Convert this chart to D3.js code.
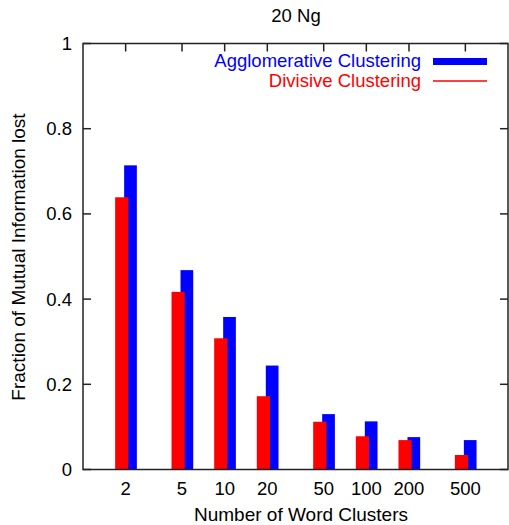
<!DOCTYPE html>
<html lang="en">
<head>
  <meta charset="UTF-8">
  <title>20 Ng</title>
  <style>
    html, body {
      margin: 0;
      background: #fff;
      overflow: hidden;
    }
    svg text {
      font-family: "Liberation Sans", Arial, sans-serif;
      font-size: 18.5px;
    }
    svg text.axis-title {
      font-size: 19px;
    }
  </style>
</head>
<body>
  <svg width="509" height="525"></svg>
<script src="https://cdnjs.cloudflare.com/ajax/libs/d3/7.8.5/d3.min.js"></script>
<script type="text/javascript">
  // data
  const clusters = [2, 5, 10, 20, 50, 100, 200, 500]
  const agglomerative = [0.714, 0.468, 0.358, 0.244, 0.130, 0.113, 0.076, 0.069]
  const divisive = [0.639, 0.417, 0.308, 0.172, 0.112, 0.078, 0.069, 0.034]
  const yTicks = [0, 0.2, 0.4, 0.6, 0.8, 1]

  const svg = d3.select('svg')
  const plot = { left: 83, right: 508, top: 43.5, bottom: 469.5 }

  const x = d3.scaleLog().domain([1, 1000]).range([plot.left, plot.right])
  const y = d3.scaleLinear().domain([0, 1]).range([plot.bottom, plot.top])

  const axisColor = '#222'

  // ticks (inward, mirrored)
  const tickLen = 8
  svg.append('g').selectAll('line')
    .data(yTicks)
    .enter()
    .append('line')
    .attr('x1', plot.left).attr('x2', plot.left + tickLen)
    .attr('y1', d => y(d)).attr('y2', d => y(d))
    .attr('stroke', axisColor).attr('stroke-width', 1.5)
  svg.append('g').selectAll('line')
    .data(yTicks)
    .enter()
    .append('line')
    .attr('x1', plot.right).attr('x2', plot.right - tickLen)
    .attr('y1', d => y(d)).attr('y2', d => y(d))
    .attr('stroke', axisColor).attr('stroke-width', 1.5)
  svg.append('g').selectAll('line')
    .data(clusters)
    .enter()
    .append('line')
    .attr('x1', d => x(d)).attr('x2', d => x(d))
    .attr('y1', plot.top).attr('y2', plot.top + tickLen)
    .attr('stroke', axisColor).attr('stroke-width', 1.5)
  svg.append('g').selectAll('line')
    .data(clusters)
    .enter()
    .append('line')
    .attr('x1', d => x(d)).attr('x2', d => x(d))
    .attr('y1', plot.bottom).attr('y2', plot.bottom - tickLen)
    .attr('stroke', axisColor).attr('stroke-width', 1.5)

  // bars: blue behind, red in front
  svg.append('g').selectAll('rect')
    .data(agglomerative)
    .enter()
    .append('rect')
    .attr('x', (d, i) => x(clusters[i]) - 1.5)
    .attr('width', 12.7)
    .attr('y', d => y(d))
    .attr('height', d => y(0) - y(d))
    .attr('fill', '#0000ff')

  svg.append('g').selectAll('rect')
    .data(divisive)
    .enter()
    .append('rect')
    .attr('x', (d, i) => x(clusters[i]) - 10.5)
    .attr('width', 13.2)
    .attr('y', d => y(d))
    .attr('height', d => y(0) - y(d))
    .attr('fill', '#ff0000')

  // border
  svg.append('rect')
    .attr('x', plot.left).attr('y', plot.top)
    .attr('width', plot.right - plot.left)
    .attr('height', plot.bottom - plot.top)
    .attr('fill', 'none')
    .attr('stroke', axisColor)
    .attr('stroke-width', 1.5)

  // tick labels
  svg.append('g').selectAll('text')
    .data(yTicks)
    .enter()
    .append('text')
    .attr('x', 72)
    .attr('y', d => y(d) + 6.5)
    .attr('text-anchor', 'end')
    .text(d => d3.format('~g')(d))

  svg.append('g').selectAll('text')
    .data(clusters)
    .enter()
    .append('text')
    .attr('x', d => x(d))
    .attr('y', 495)
    .attr('text-anchor', 'middle')
    .text(d => d)

  // titles
  svg.append('text')
    .attr('x', 296).attr('y', 22)
    .attr('text-anchor', 'middle')
    .text('20 Ng')

  svg.append('text')
    .attr('class', 'axis-title')
    .attr('x', 301).attr('y', 520.5)
    .attr('text-anchor', 'middle')
    .text('Number of Word Clusters')

  svg.append('text')
    .attr('class', 'axis-title')
    .attr('transform', 'translate(25,257) rotate(-90)')
    .attr('text-anchor', 'middle')
    .text('Fraction of Mutual Information lost')

  // legend
  const legend = [
    { name: 'Agglomerative Clustering', color: '#0000ff', width: 7 },
    { name: 'Divisive Clustering', color: '#ff0000', width: 1.5 }
  ]
  const lg = svg.append('g').selectAll('g')
    .data(legend)
    .enter()
    .append('g')
    .attr('transform', (d, i) => 'translate(0,' + (i * 19.4) + ')')
  lg.append('text')
    .attr('x', 421).attr('y', 67.3)
    .attr('text-anchor', 'end')
    .attr('fill', d => d.color)
    .text(d => d.name)
  lg.append('line')
    .attr('x1', 433).attr('x2', 487)
    .attr('y1', 61.5).attr('y2', 61.5)
    .attr('stroke', d => d.color)
    .attr('stroke-width', d => d.width)
</script>
</body>
</html>
